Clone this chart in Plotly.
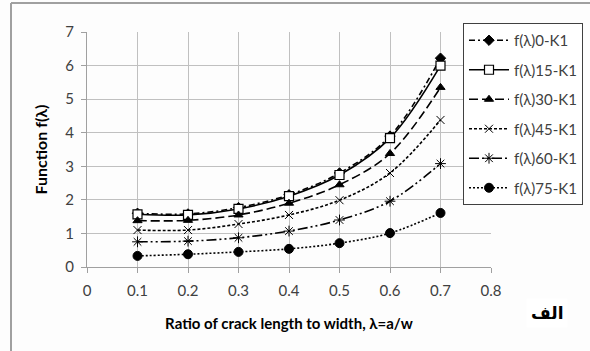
import plotly.graph_objects as go

x_vals = [0.1, 0.2, 0.3, 0.4, 0.5, 0.6, 0.7]
series_names = ["f(λ)0-K1", "f(λ)15-K1", "f(λ)30-K1", "f(λ)45-K1", "f(λ)60-K1", "f(λ)75-K1"]
f0 = [1.60, 1.58, 1.77, 2.15, 2.80, 3.90, 6.22]
f15 = [1.57, 1.55, 1.73, 2.11, 2.74, 3.84, 6.00]
f30 = [1.38, 1.39, 1.55, 1.90, 2.45, 3.38, 5.35]
f45 = [1.10, 1.10, 1.28, 1.55, 1.99, 2.80, 4.38]
f60 = [0.75, 0.77, 0.87, 1.07, 1.40, 1.96, 3.08]
f75 = [0.33, 0.38, 0.45, 0.54, 0.71, 1.01, 1.61]
series_vals = [f0, f15, f30, f45, f60, f75]
x_ticks = [0, 0.1, 0.2, 0.3, 0.4, 0.5, 0.6, 0.7, 0.8]
x_tick_text = ["0", "0.1", "0.2", "0.3", "0.4", "0.5", "0.6", "0.7", "0.8"]
y_ticks = [0, 1, 2, 3, 4, 5, 6, 7]

styles = [
    dict(dash="6px,3px,2px,3px", symbol="diamond", size=8, color="black", lc="black", lw=1),
    dict(dash="solid", symbol="square", size=9, color="white", lc="black", lw=1.2),
    dict(dash="9px,4px", symbol="triangle-up", size=8, color="black", lc="black", lw=1),
    dict(dash="3px,2px", symbol="x-thin-open", size=8, color="black", lc="black", lw=1),
    dict(dash="10px,3px,2px,3px,2px,3px", symbol="asterisk-open", size=9, color="black", lc="black", lw=1),
    dict(dash="2px,2px", symbol="circle", size=9, color="black", lc="black", lw=1),
]

fig = go.Figure()
for i, (name, vals, st) in enumerate(zip(series_names, series_vals, styles)):
    fig.add_trace(go.Scatter(
        x=x_vals, y=vals, name=name, mode="lines+markers",
        legendgroup=f"g{i}",
        line=dict(color="black", width=1.6, dash=st["dash"], shape="spline", smoothing=1),
        marker=dict(symbol=st["symbol"], size=st["size"], color=st["color"],
                    line=dict(color=st["lc"], width=st["lw"])),
    ))

W, H = 590, 351
L, R, T, B = 87, 99, 32, 84
pw, ph = W - L - R, H - T - B

def px2x(px):
    return (px - L) / pw

def py2y(py):
    return (H - B - py) / ph

fig.update_layout(
    width=W, height=H,
    margin=dict(l=L, r=R, t=T, b=B, autoexpand=False),
    paper_bgcolor="#fdfdfd", plot_bgcolor="#fdfdfd",
    font=dict(family="Lato", size=15, color="#404040"),
    showlegend=True,
    legend=dict(
        x=px2x(463), y=py2y(23), xanchor="left", yanchor="top",
        bgcolor="white", bordercolor="#404040", borderwidth=1,
        font=dict(family="Lato", size=15, color="#404040"),
        itemwidth=40, tracegroupgap=7, maxheight=340,
    ),
    xaxis=dict(
        range=[0, 0.8], tickvals=x_ticks, ticktext=x_tick_text,
        showgrid=True, gridcolor="#c0c0c0", gridwidth=1,
        zeroline=False, showline=True, linecolor="#a0a0a0", linewidth=1,
        ticks="outside", ticklen=5, tickcolor="#a0a0a0",
        ticklabelstandoff=5,
        title=dict(text="<b>Ratio of crack length to width, λ=a/w</b>",
                   font=dict(family="Lato", size=15, color="black"), standoff=20),
    ),
    yaxis=dict(
        range=[0, 7], tickvals=y_ticks,
        showgrid=True, gridcolor="#c0c0c0", gridwidth=1,
        zeroline=False, showline=True, linecolor="#a0a0a0", linewidth=1,
        ticks="outside", ticklen=5, tickcolor="#a0a0a0",
        ticklabelstandoff=4,
        title=dict(text="<b>Function f(λ)</b>",
                   font=dict(family="Lato", size=16, color="black"), standoff=13),
    ),
    shapes=[
        dict(type="line", xref="paper", yref="paper",
             x0=px2x(11), x1=px2x(11), y0=py2y(3), y1=py2y(351),
             line=dict(color="#a0a0a0", width=2)),
        dict(type="line", xref="paper", yref="paper",
             x0=px2x(11), x1=px2x(590), y0=py2y(3), y1=py2y(3),
             line=dict(color="#a0a0a0", width=2)),
    ],
    annotations=[
        dict(text="<b>الف</b>", xref="paper", yref="paper",
             x=px2x(526), y=py2y(313), xanchor="left", yanchor="middle", showarrow=False,
             font=dict(family="DejaVu Sans", size=17, color="black"),
             bgcolor="white", borderpad=4),
    ],
)

fig.write_html("out.html")
